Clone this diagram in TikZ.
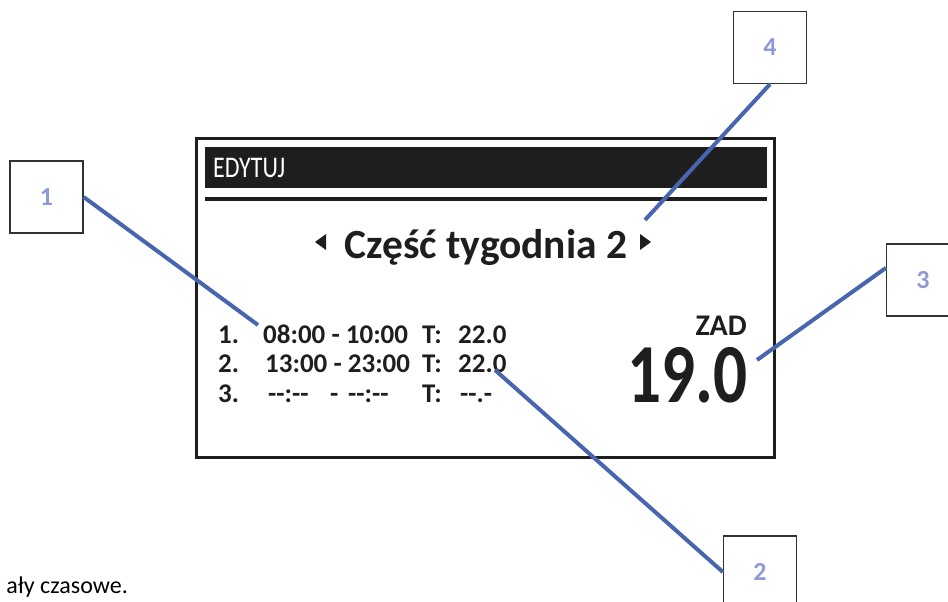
\documentclass[tikz,border=0pt]{standalone}
\usepackage{fontspec}
\setmainfont{Carlito}
\newfontfamily\condfont[FakeStretch=0.8]{Carlito}
\usepackage{xcolor}
\definecolor{pointerblue}{RGB}{72,102,176}
\definecolor{labelblue}{RGB}{142,154,214}
\definecolor{boxgray}{RGB}{50,50,50}
\definecolor{lcd}{RGB}{30,30,30}
\newcommand{\dsh}{\mbox{-}}
\newcommand{\boxnum}[1]{\raisebox{-5pt}{#1}}

\begin{document}
\begin{tikzpicture}[x=1pt,y=-1pt,
  labelbox/.style={draw=boxgray,line width=1.3pt,minimum width=73pt,minimum height=72pt,
    text=labelblue,font=\bfseries\fontsize{26}{27}\selectfont},
  pointer/.style={pointerblue,line width=4pt},
  rowtext/.style={anchor=base west,inner sep=0pt,text=lcd,font=\bfseries\fontsize{27}{29}\selectfont}]
\useasboundingbox (0,0) rectangle (948,602);
\draw[lcd,line width=3pt] (196.5,138.5) rectangle (774.5,457.5);
\fill[lcd] (205,147) rectangle (767,188);
\fill[lcd] (205,197) rectangle (767,201);
\node[anchor=base west,inner sep=0pt,text=white,font=\condfont\fontsize{30}{32}\selectfont] (head) at (213,177) {EDYTUJ};
\node[anchor=base,inner sep=0pt,text=lcd,font=\bfseries\fontsize{41.5}{43}\selectfont] (title) at (486,258) {Część tygodnia 2};
\fill[lcd] (315,242) -- (326,234) -- (326,250) -- cycle;
\fill[lcd] (640,234) -- (651,242) -- (640,250) -- cycle;
\node[rowtext] (n1) at (218,343) {1.};
\node[rowtext] (h1) at (263,343) {08:00 - 10:00};
\node[rowtext] (t1) at (422,343) {T:};
\node[rowtext] (v1) at (458,343) {22.0};
\node[rowtext] (n2) at (218,372) {2.};
\node[rowtext] (h2) at (265,372) {13:00 - 23:00};
\node[rowtext] (t2) at (422,372) {T:};
\node[rowtext] (v2) at (458,372) {22.0};
\node[rowtext] (n3) at (218,402) {3.};
\node[rowtext] (h3a) at (268,402) {\dsh\dsh:\dsh\dsh};
\node[rowtext] (h3b) at (330,402) {-};
\node[rowtext] (h3c) at (348,402) {\dsh\dsh:\dsh\dsh};
\node[rowtext] (t3) at (422,402) {T:};
\node[rowtext] (v3) at (460,402) {\dsh\dsh.\dsh};
\node[anchor=base east,inner sep=0pt,text=lcd,font=\bfseries\fontsize{30}{32}\selectfont] (zad) at (747,335) {ZAD};
\node[anchor=base east,inner sep=0pt,text height=56pt,text depth=0pt,text=lcd,
  font=\condfont\bfseries\fontsize{84}{86}\selectfont] (temp) at (748,402) {19.0};
\node[anchor=base east,inner sep=0pt,font=\fontsize{24}{26}\selectfont] (caption) at (128,593) {ały czasowe.};
\node[labelbox] (box1) at (46.5,197) {\boxnum{1}};
\node[labelbox] (box2) at (760,572) {\boxnum{2}};
\node[labelbox] (box3) at (923,280) {\boxnum{3}};
\node[labelbox] (box4) at (770,47.5) {\boxnum{4}};
\coordinate (p1) at (258,325);
\coordinate (p2) at (495,370);
\coordinate (p3) at (757,360);
\coordinate (p4) at (645,220);
\draw[pointer] (box1.east) -- (p1);
\draw[pointer] (box2.west) -- (p2);
\draw[pointer] (box3.162) -- (p3);
\draw[pointer] (box4.south) -- (p4);
\end{tikzpicture}
\end{document}
